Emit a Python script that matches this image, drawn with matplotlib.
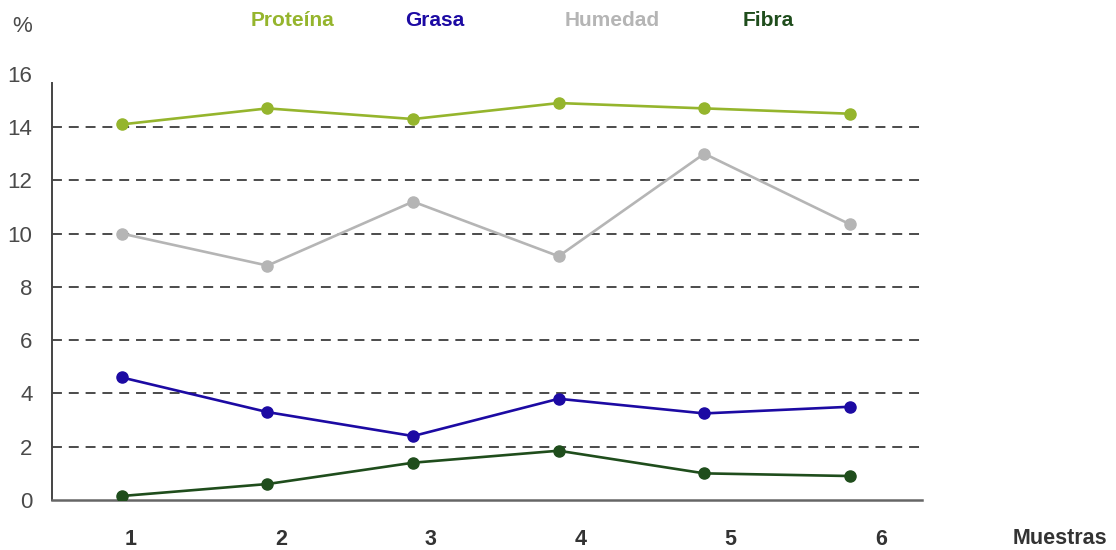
import matplotlib.pyplot as plt

plt.rcParams['font.family'] = ['Liberation Sans', 'DejaVu Sans']

# Data
muestras = [1, 2, 3, 4, 5, 6]
tick_labels = ["1", "2", "3", "4", "5", "6"]
proteina = [14.1, 14.7, 14.3, 14.9, 14.7, 14.5]
grasa = [4.6, 3.3, 2.4, 3.8, 3.25, 3.5]
humedad = [10.0, 8.8, 11.2, 9.15, 13.0, 10.35]
fibra = [0.15, 0.6, 1.4, 1.85, 1.0, 0.9]

series = [
    ("Proteína", proteina, "#95b52d"),
    ("Grasa", grasa, "#1c0aa3"),
    ("Humedad", humedad, "#b5b5b5"),
    ("Fibra", fibra, "#1f4d1c"),
]

fig = plt.figure(figsize=(11.16, 5.5), dpi=100)
ax = fig.add_axes([0.0466, 0.0909, 0.7795, 0.775])

for name, vals, col in series:
    ax.plot(muestras, vals, color=col, linewidth=1.9, marker="o", markersize=8, zorder=3)

ax.set_xlim(0.52, 6.495)
ax.set_ylim(0, 16)
ax.set_yticks(range(0, 17, 2))
ax.set_yticklabels([str(v) for v in range(0, 17, 2)], fontsize=16, color="#4a4a4a")

# tick labels sit a little to the right of the points
ax.set_xticks([1.062 + 1.03 * (m - 1) for m in muestras])
ax.set_xticklabels(tick_labels, fontsize=15.5, fontweight="bold", color="#333333")
ax.tick_params(axis="both", length=0)
ax.tick_params(axis="x", pad=21)
ax.tick_params(axis="y", pad=14)

for y in range(2, 16, 2):
    ax.axhline(y, color="#1a1a1a", linewidth=1.1, linestyle=(0, (6.5, 4.5)), zorder=1)

for s in ["top", "right"]:
    ax.spines[s].set_visible(False)
ax.spines["left"].set_color("#444444")
ax.spines["left"].set_linewidth(1.4)
ax.spines["left"].set_bounds(0, 15.65)
ax.spines["bottom"].set_color("#666666")
ax.spines["bottom"].set_linewidth(1.8)

# legend as coloured text
legend_x = [293, 435, 612, 768]
for (name, vals, col), lx in zip(series, legend_x):
    fig.text(lx / 1116, 1 - 20 / 550, name, color=col, fontsize=15, fontweight="bold",
             ha="center", va="center")

fig.text(22 / 1116, 1 - 27 / 550, "%", fontsize=16, color="#4a4a4a", ha="center", va="center")
fig.text(1060 / 1116, 1 - 538 / 550, "Muestras", fontsize=15.5, fontweight="bold",
         color="#333333", ha="center", va="center")

fig.savefig("out.png", dpi=100)
